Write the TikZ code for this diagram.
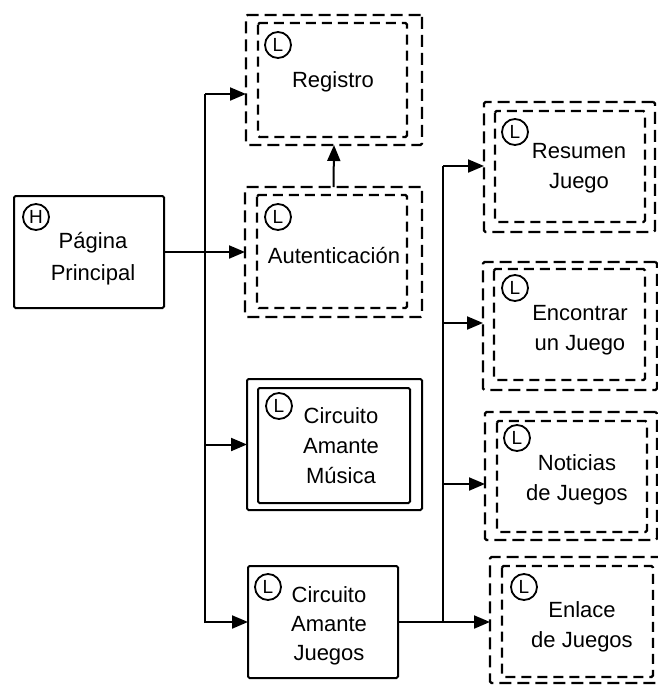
\documentclass[tikz,border=0pt]{standalone}
\usepackage{fontspec}
\setmainfont{Liberation Sans}
\usetikzlibrary{arrows.meta}
\begin{document}
\begin{tikzpicture}[x=1pt,y=-1pt,
  lbl/.style={font=\fontsize{22}{30}\selectfont, align=center, anchor=base, inner sep=0},
  solidbox/.style={draw, line width=2pt, inner sep=0, outer sep=0, rounded corners=1.5pt},
  outerbox/.style={draw, line width=2.4pt, dash pattern=on 12pt off 6pt, inner sep=0, outer sep=0, rounded corners=1.5pt},
  innerbox/.style={draw, line width=2.2pt, dash pattern=on 10pt off 6pt, rounded corners=1.5pt},
  framebox/.style={draw, line width=2pt, rounded corners=1.5pt},
  badge/.style={circle, draw, line width=1.8pt, minimum size=26pt, inner sep=0, font=\fontsize{19}{19}\selectfont},
  conn/.style={line width=2pt},
  arr/.style={conn, -{Triangle[length=16pt,width=13pt]}}]
\useasboundingbox (0,0) rectangle (658,686);

% page boxes
\node[solidbox, minimum width=150pt, minimum height=112pt] (pag) at (89,252) {};
\node[outerbox, minimum width=176pt, minimum height=130pt] (reg) at (334,80) {};
\draw[innerbox] (258,23) rectangle (407,137);
\node[outerbox, minimum width=177pt, minimum height=130pt] (aut) at (333.5,252) {};
\draw[innerbox] (257,195) rectangle (407,308);
\node[solidbox, minimum width=175pt, minimum height=131pt] (cam) at (334.5,444.5) {};
\draw[framebox] (258,388) rectangle (410,503);
\node[solidbox, minimum width=150pt, minimum height=112pt] (caj) at (323,622) {};

\node[outerbox, minimum width=171pt, minimum height=130pt] (res) at (569.5,167) {};
\draw[innerbox] (495,111) rectangle (645,222);
\node[outerbox, minimum width=174pt, minimum height=128pt] (enc) at (570,326) {};
\draw[innerbox] (494,269) rectangle (645,380);
\node[outerbox, minimum width=172pt, minimum height=128pt] (not) at (571,476) {};
\draw[innerbox] (497,421) rectangle (647,532);
\node[outerbox, minimum width=174pt, minimum height=126pt] (enl) at (577,620) {};
\draw[innerbox] (502,566) rectangle (653,677);

% badges
\node[badge] (bpag) at (36,217) {H};
\node[badge] (breg) at (278,45) {L};
\node[badge] (baut) at (278,217) {L};
\node[badge] (bcam) at (279,406) {L};
\node[badge] (bcaj) at (268,587) {L};
\node[badge] (bres) at (515,132) {L};
\node[badge] (benc) at (515,288) {L};
\node[badge] (bnot) at (517,438) {L};
\node[badge] (benl) at (524,587) {L};

% labels (anchored at the baseline of the last line)
\node[lbl] (tpag) at (93,280) {Página\\[2pt]Principal};
\node[lbl] (treg) at (333,87) {Registro};
\node[lbl] (taut) at (334,263) {Autenticación};
\node[lbl] (tcam) at (341,483) {Circuito\\Amante\\Música};
\node[lbl] (tcaj) at (329,660) {Circuito\\[-1pt]Amante\\[-1pt]Juegos};
\node[lbl] (tres) at (579,188) {Resumen\\Juego};
\node[lbl] (tenc) at (580,350) {Encontrar\\un Juego};
\node[lbl] (tnot) at (577,500) {Noticias\\de Juegos};
\node[lbl] (tenl) at (582,647) {Enlace\\de Juegos};

% left trunk
\coordinate (lt) at (205,94);
\coordinate (lb) at (205,623);
\draw[conn] (lb) -- (lt);
\draw[arr] (lt) -- (lt -| reg.west);
\draw[arr] (pag.east) -- (aut.west);
\draw[arr] (lb |- cam.west) -- (cam.west);
\draw[arr] (lb |- caj.west) -- (caj.west);
\draw[arr] (aut.north) -- (reg.south);

% right trunk
\coordinate (r1) at (443,166);
\coordinate (r2) at (443,323);
\coordinate (r3) at (443,484);
\coordinate (r4) at (443,622);
\draw[conn] (caj.east) -- (r4) -- (r1);
\draw[arr] (r1) -- (r1 -| res.west);
\draw[arr] (r2) -- (r2 -| enc.west);
\draw[arr] (r3) -- (r3 -| not.west);
\draw[arr] (r4) -- (r4 -| enl.west);
\end{tikzpicture}
\end{document}
